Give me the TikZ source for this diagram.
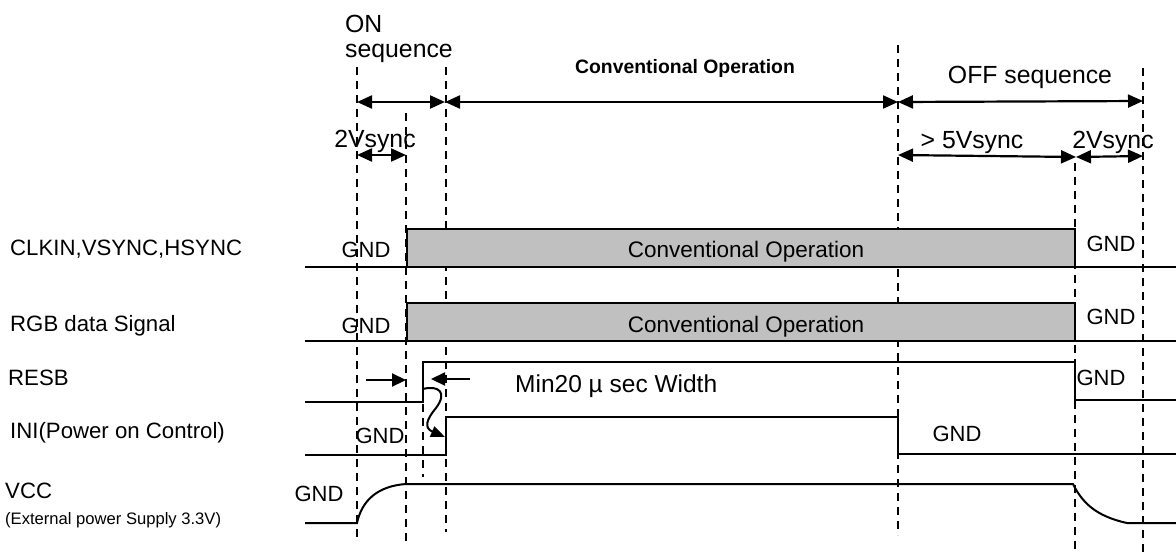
\documentclass[tikz,border=0pt]{standalone}
\usepackage{fontspec}
\setmainfont{Liberation Sans}
\usetikzlibrary{arrows.meta}
\definecolor{boxgray}{RGB}{192,192,192}
\begin{document}
\begin{tikzpicture}[x=1pt,y=-1pt,
  sig/.style={line width=2pt, line join=miter},
  guide/.style={line width=1.8pt, dash pattern=on 8pt off 6pt},
  dimarrow/.style={line width=2.2pt, {Triangle[length=15pt,width=13pt]}-{Triangle[length=15pt,width=13pt]}},
  onearrow/.style={line width=2.2pt, -{Triangle[length=14pt,width=13pt]}},
  lbl/.style={inner sep=0pt, anchor=base west, font=\fontsize{22.2}{26}\selectfont},
  smalllbl/.style={inner sep=0pt, anchor=base west, font=\fontsize{16.6}{20}\selectfont},
  gnd/.style={inner sep=0pt, anchor=base, font=\fontsize{22}{26}\selectfont},
  toplbl/.style={inner sep=0pt, anchor=base, font=\fontsize{24.8}{28}\selectfont},
  convlbl/.style={inner sep=0pt, anchor=base, font=\fontsize{22.5}{26}\selectfont},
  boldlbl/.style={inner sep=0pt, anchor=base, font=\bfseries\fontsize{19.4}{23}\selectfont},
  cbox/.style={draw, line width=1.6pt, fill=boxgray}
]
\useasboundingbox (0,0) rectangle (1176,552);

% ---- dashed guide lines ----
\draw[guide] (357,67) -- (357,542);
\draw[guide] (406,113) -- (406,545);
\draw[guide] (446,67) -- (446,532);
\draw[guide] (423,362) -- (423,477);
\draw[guide] (898,45) -- (898,535);
\draw[guide] (1075,163) -- (1075,552);
\draw[guide] (1143,68) -- (1143,552);

% ---- grey boxes ----
\draw[cbox] (407,229) rectangle (1075,267);
\draw[cbox] (407,303) rectangle (1075,341);

% ---- waveforms ----
\draw[sig] (305,267) -- (1176,267);
\draw[sig] (305,341) -- (1176,341);
\draw[sig] (305,402) -- (423,402) -- (423,362) -- (1075,362) -- (1075,400) -- (1176,400);
\draw[sig] (305,455) -- (446,455) -- (446,417) -- (898,417) -- (898,454) -- (1176,454);
\draw[sig] (305,523) -- (357,523) .. controls (362,500) and (378,486) .. (406,484)
  -- (1073,484) .. controls (1082,502) and (1095,516) .. (1127,523) -- (1176,523);

% ---- signal names ----
\node[lbl] (nclk) at (10,255) {CLKIN,VSYNC,HSYNC};
\node[lbl] (nrgb) at (10,331) {RGB data Signal};
\node[lbl] (nres) at (8,385) {RESB};
\node[lbl] (nini) at (10,438) {INI(Power on Control)};
\node[lbl] (nvcc) at (5,498) {VCC};
\node[smalllbl] (next) at (5,524) {(External power Supply 3.3V)};

% ---- GND labels ----
\node[gnd] (g1) at (366,257) {GND};
\node[gnd] (g2) at (366,333) {GND};
\node[gnd] (g3) at (380,443) {GND};
\node[gnd] (g4) at (319,501) {GND};
\node[gnd] (g5) at (1111,251) {GND};
\node[gnd] (g6) at (1111,324) {GND};
\node[gnd] (g7) at (1101,385) {GND};
\node[gnd] (g8) at (957,441) {GND};

% ---- box texts ----
\node[convlbl] (c1) at (746,257) {Conventional Operation};
\node[convlbl] (c2) at (746,332) {Conventional Operation};

% ---- top labels ----
\node[toplbl, anchor=base west] (on) at (345,32) {ON};
\node[toplbl, anchor=base west] (seq) at (345,57) {sequence};
\node[boldlbl] (convtop) at (685,73) {Conventional Operation};
\node[toplbl] (offseq) at (1030,83) {OFF sequence};
\node[toplbl] (v2a) at (375,147) {2Vsync};
\node[toplbl] (v5) at (972,148) {> 5Vsync};
\node[toplbl] (v2b) at (1113,148) {2Vsync};

% ---- dimension arrows ----
\coordinate (tOnL) at (357,102);
\coordinate (tOnR) at (445,102);
\coordinate (tOffL) at (898,102);
\coordinate (tOffR) at (1143,101);
\draw[dimarrow] (tOnL) -- (tOnR);
\draw[dimarrow] (tOnR) -- (tOffL);
\draw[dimarrow] (tOffL) -- (tOffR);

\coordinate (s1L) at (357,155);
\coordinate (s1R) at (406,155);
\draw[dimarrow] (s1L) -- (s1R);
\coordinate (s5L) at (898,155);
\coordinate (s5R) at (1076,157);
\coordinate (s2R) at (1143,156);
\draw[dimarrow] (s5L) -- (s5R);
\draw[dimarrow] (s5R) -- (s2R);

% ---- RESB pulse width marks ----
\coordinate (wA) at (366,380);
\coordinate (wB) at (406,380);
\coordinate (wC) at (470,379);
\coordinate (wD) at (431,379);
\draw[onearrow] (wA) -- (wB);
\draw[onearrow] (wC) -- (wD);
\node[inner sep=0pt, anchor=base west, font=\fontsize{24.5}{28}\selectfont] (minw) at (515,392) {Min20 µ sec Width};

% ---- RESB -> INI causal arrow ----
\coordinate (cS) at (423,389);
\coordinate (cE) at (445,437);
\draw[line width=2pt, -{Triangle[length=14pt,width=11pt]}] (cS) .. controls (438,385) and (448,392) .. (436,408) .. controls (426,420) and (424,428) .. (cE);
\end{tikzpicture}
\end{document}
